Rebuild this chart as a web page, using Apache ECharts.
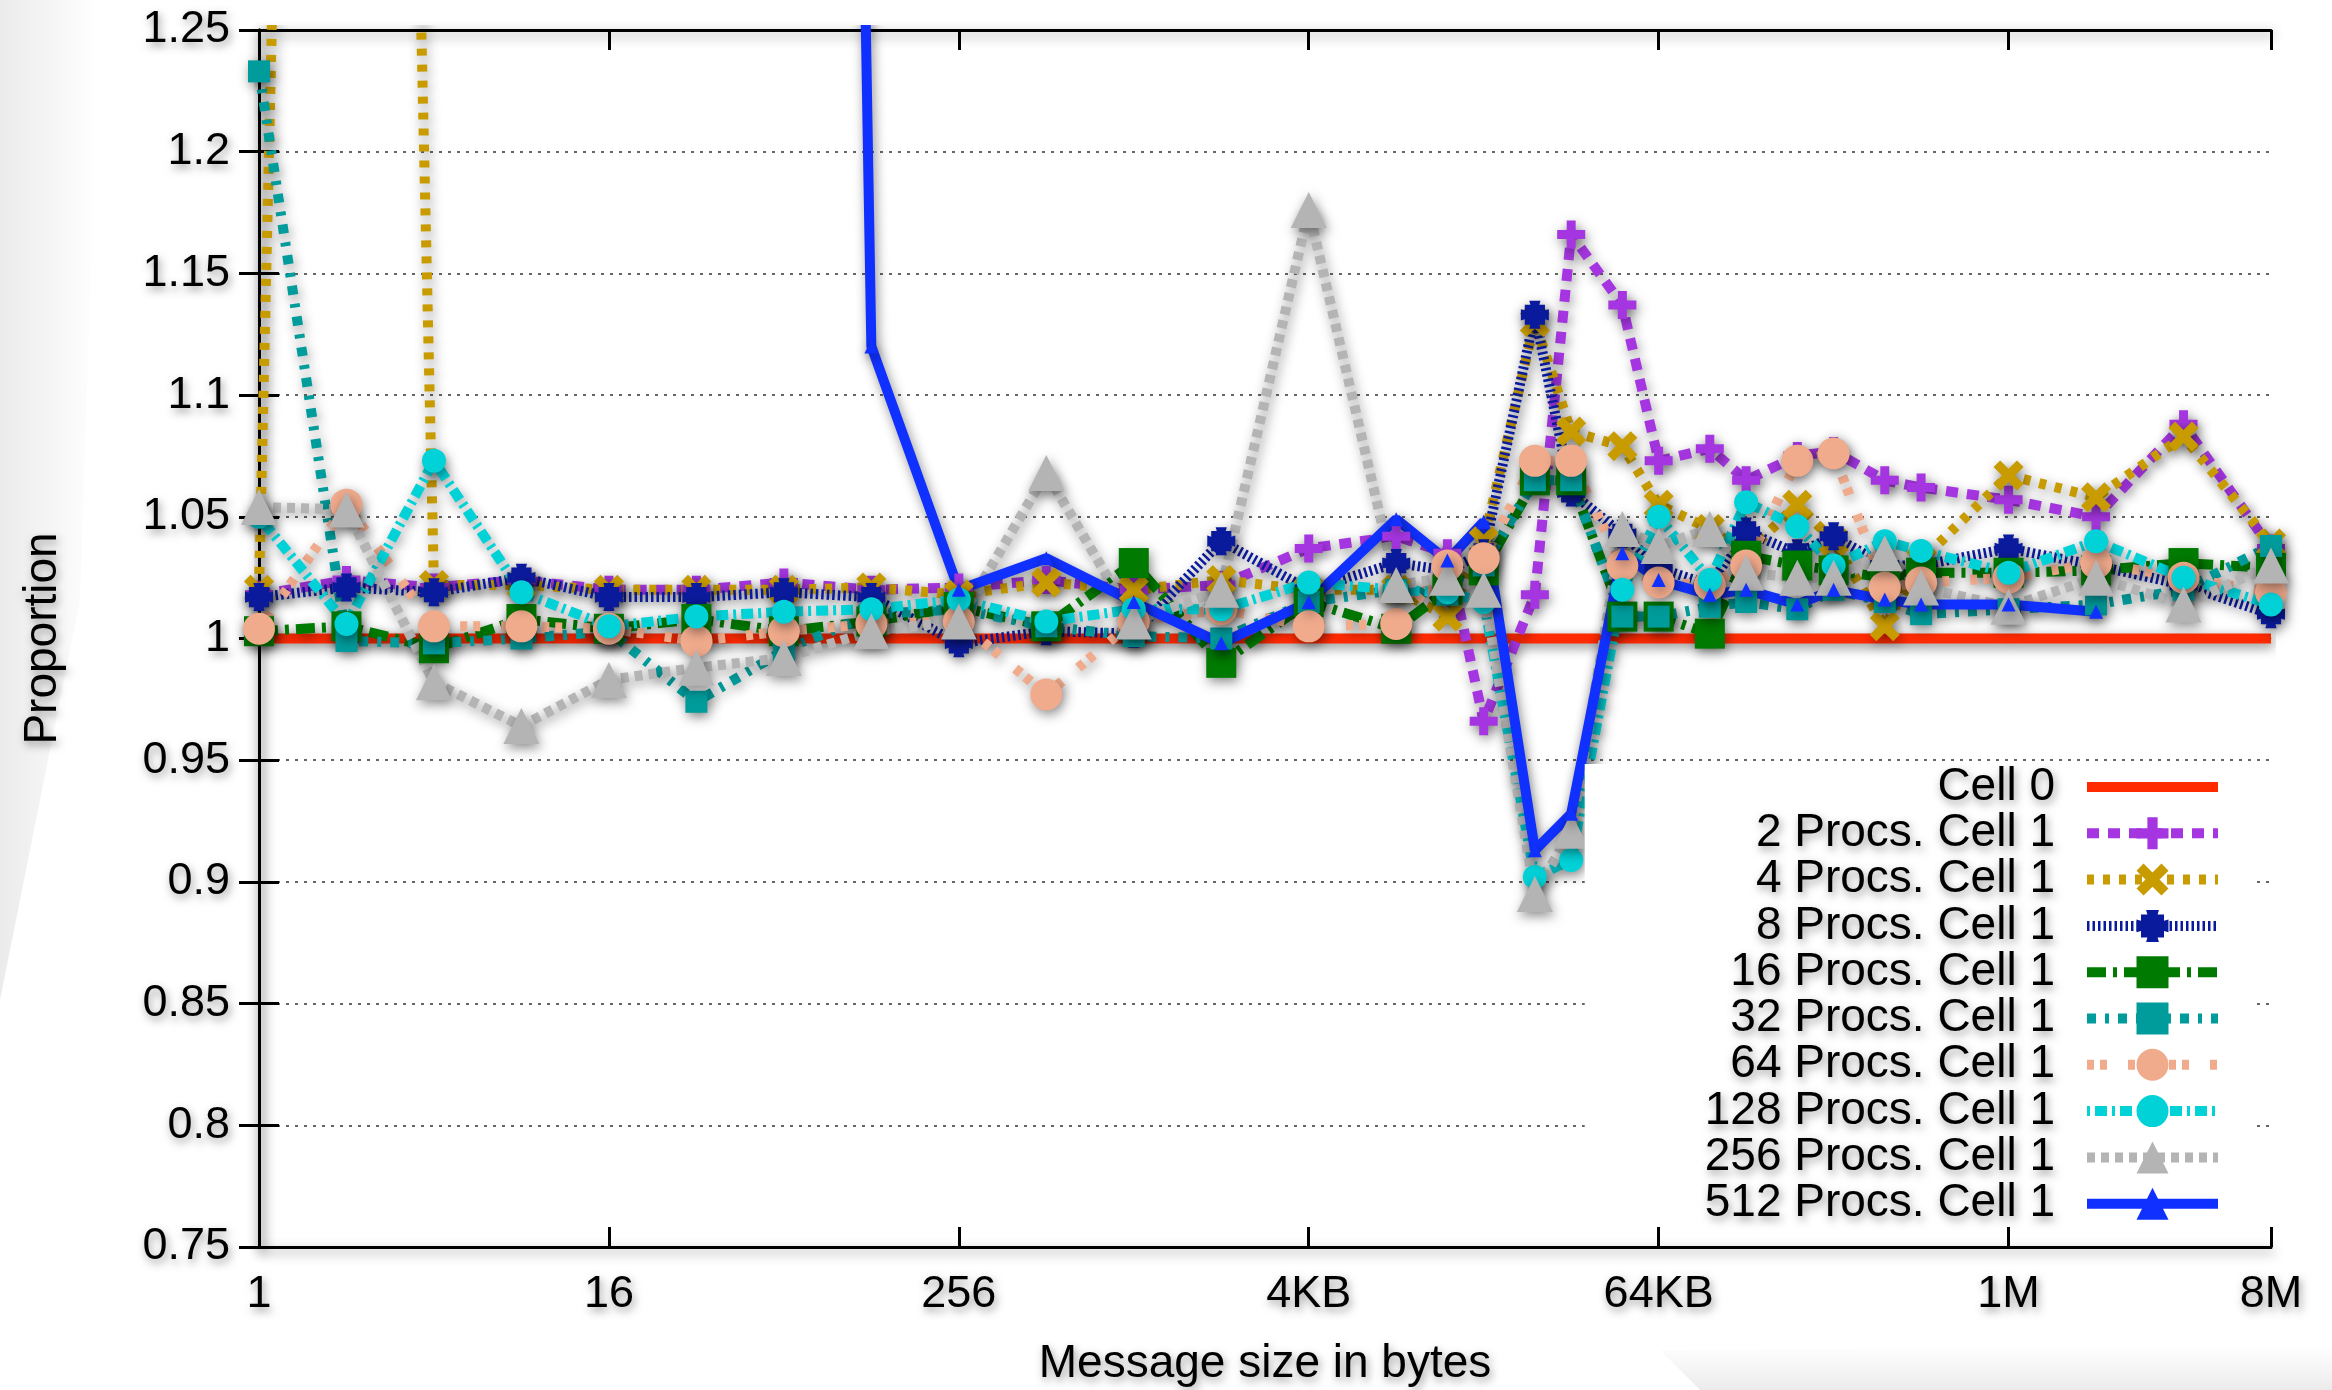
<!DOCTYPE html>
<html>
<head>
<meta charset="utf-8">
<title>Proportion by message size</title>
<script src="https://cdn.jsdelivr.net/npm/echarts@6/dist/echarts.min.js"></script>
<style>
  html, body { margin: 0; padding: 0; background: #fff; }
  #chart { width: 2332px; height: 1390px; }
</style>
</head>
<body>
<div id="chart"></div>
<script>
// message sizes in bytes, x axis is log2 of these
const sizes = [1, 2, 4, 8, 16, 32, 64, 128, 256, 512, 1024, 2048, 4096, 8192, 12288, 16384,
  24576, 32768, 49152, 65536, 98304, 131072, 196608, 262144, 393216, 524288,
  1048576, 2097152, 4194304, 8388608];

const tickExp = [0, 4, 8, 12, 16, 20, 23];
const tickText = ["1", "16", "256", "4KB", "64KB", "1M", "8M"];

const cell0 = [1, 1, 1, 1, 1, 1, 1, 1, 1, 1, 1, 1, 1, 1, 1, 1, 1, 1, 1, 1, 1, 1, 1, 1, 1, 1, 1, 1, 1, 1];
const procs2 = [1.018, 1.024, 1.021, 1.024, 1.020, 1.020, 1.023, 1.020, 1.021, 1.024, 1.020, 1.022, 1.037, 1.042, 1.035,
  0.966, 1.018, 1.166, 1.137, 1.073, 1.078, 1.065, 1.075, 1.077, 1.065, 1.062, 1.057, 1.050, 1.088, 1.037];
const procs4 = [1.020, 2.600, 1.022, 1.022, 1.020, 1.020, 1.020, 1.021, 1.018, 1.023, 1.020, 1.024, 1.020, 1.020, 1.009,
  1.040, 1.130, 1.085, 1.079, 1.055, 1.045, 1.035, 1.055, 1.040, 1.005, 1.032, 1.067, 1.058, 1.083, 1.039];
const procs8 = [1.017, 1.021, 1.019, 1.025, 1.017, 1.017, 1.019, 1.017, 0.998, 1.003, 1.002, 1.040, 1.020, 1.031, 1.028,
  1.035, 1.133, 1.060, 1.043, 1.029, 1.022, 1.044, 1.035, 1.042, 1.030, 1.030, 1.037, 1.030, 1.022, 1.010];
const procs16 = [1.003, 1.005, 0.996, 1.008, 1.004, 1.008, 1.003, 1.007, 1.013, 1.005, 1.031, 0.990, 1.015, 1.004, 1.020,
  1.028, 1.065, 1.065, 1.009, 1.009, 1.002, 1.034, 1.030, 1.028, 1.025, 1.027, 1.027, 1.028, 1.031, 1.029];
const procs32 = [1.233, 0.999, 0.998, 1.000, 1.003, 0.974, 0.995, 1.010, 1.012, 1.005, 1.001, 1.000, 1.015, 1.020, 1.018,
  1.030, 1.065, 1.065, 1.009, 1.009, 1.013, 1.015, 1.012, 1.020, 1.015, 1.010, 1.012, 1.014, 1.020, 1.038];
const procs64 = [1.004, 1.055, 1.005, 1.005, 1.004, 0.999, 1.003, 1.006, 1.007, 0.977, 1.007, 1.012, 1.005, 1.006, 1.030,
  1.033, 1.073, 1.073, 1.030, 1.023, 1.022, 1.030, 1.073, 1.076, 1.021, 1.023, 1.025, 1.031, 1.025, 1.019];
const procs128 = [1.050, 1.006, 1.073, 1.019, 1.005, 1.009, 1.011, 1.012, 1.016, 1.007, 1.012, 1.012, 1.023, 1.020, 1.019,
  1.015, 0.902, 0.909, 1.020, 1.050, 1.024, 1.056, 1.046, 1.030, 1.040, 1.036, 1.027, 1.040, 1.025, 1.014];
const procs256 = [1.054, 1.053, 0.982, 0.964, 0.983, 0.988, 0.992, 1.003, 1.007, 1.068, 1.007, 1.020, 1.176, 1.022, 1.025,
  1.020, 0.895, 0.921, 1.045, 1.038, 1.045, 1.027, 1.025, 1.025, 1.035, 1.021, 1.013, 1.025, 1.014, 1.030];
// 512 procs has no points at 4M and 8M
const procs512 = [3.9, 3.7, 3.6, 3.5, 3.4, 3.3, 3.2, 1.120, 1.020, 1.033, 1.015, 0.998, 1.015, 1.049, 1.032,
  1.048, 0.913, 0.928, 1.035, 1.024, 1.018, 1.020, 1.014, 1.020, 1.016, 1.014, 1.014, 1.011, null, null];

const FONT = "'Liberation Sans', Arial, Helvetica, sans-serif";
const shadow = { shadowColor: "rgba(0,0,0,0.45)", shadowBlur: 12, shadowOffsetX: 2, shadowOffsetY: 4 };
const textShadow = { textShadowColor: "rgba(0,0,0,0.4)", textShadowBlur: 9, textShadowOffsetX: 2, textShadowOffsetY: 4 };

const PLUS = "path://M34,0H66V34H100V66H66V100H34V66H0V34H34Z";
const CROSS = "path://M0,22L22,0L50,28L78,0L100,22L72,50L100,78L78,100L50,72L22,100L0,78L28,50Z";
const BLOB = "path://M30,0L70,0L66,14L86,14L86,34L100,30L100,70L86,66L86,86L66,86L70,100L30,100L34,86L14,86L14,66L0,70L0,30L14,34L14,14L34,14Z";

function makeSeries(name, values, color, dash, symbol, size, width) {
  const points = [];
  values.forEach((v, i) => {
    if (v != null) points.push([Math.log2(sizes[i]), v]);
  });
  return {
    name,
    type: "line",
    data: points,
    symbol,
    symbolSize: size,
    clip: true,
    lineStyle: { color, width, type: dash, cap: "butt", ...shadow },
    itemStyle: { color, ...shadow },
    emphasis: { disabled: true },
  };
}

const series = [
  makeSeries("Cell 0", cell0, "#ff2a00", "solid", "circle", 1, 10),
  makeSeries("2 Procs. Cell 1", procs2, "#a535e0", [12, 9], PLUS, 28, 10),
  makeSeries("4 Procs. Cell 1", procs4, "#c89b00", [7, 9], CROSS, 30, 10),
  makeSeries("8 Procs. Cell 1", procs8, "#0a1a9c", [2.5, 3], BLOB, 28, 10),
  makeSeries("16 Procs. Cell 1", procs16, "#007a00", [19, 7, 4, 7], "rect", 30, 10),
  makeSeries("32 Procs. Cell 1", procs32, "#009b9b", [9, 9, 4, 9], "rect", 22, 10),
  makeSeries("64 Procs. Cell 1", procs64, "#f0aa8c", [7, 6, 7, 21], "circle", 32, 10),
  makeSeries("128 Procs. Cell 1", procs128, "#00d2d8", [3, 5, 12, 5], "circle", 24, 10),
  makeSeries("256 Procs. Cell 1", procs256, "#b4b4b4", [8, 6], "triangle", 36, 10),
  makeSeries("512 Procs. Cell 1", procs512, "#1030ff", "solid", "triangle", 14, 10),
];

const legendData = series.map((s) =>
  s.name === "Cell 0" ? { name: s.name, itemStyle: { opacity: 0 } } : { name: s.name }
);

const axisLine = { lineStyle: { color: "#000", width: 3, ...shadow } };
const axisTick = { inside: true, length: 20, lineStyle: { color: "#000", width: 3 } };

const chart = echarts.init(document.getElementById("chart"));
chart.setOption({
  animation: false,
  backgroundColor: "#fff",
  textStyle: { fontFamily: FONT },
  graphic: [
    {
      type: "polygon", z: -10, silent: true,
      shape: { points: [[0, 0], [100, 0], [80, 600], [0, 1000]] },
      style: {
        fill: new echarts.graphic.LinearGradient(0, 0, 100, 0, [
          { offset: 0, color: "rgba(0,0,0,0.08)" },
          { offset: 1, color: "rgba(0,0,0,0)" },
        ], true),
      },
    },
    {
      type: "polygon", z: -10, silent: true,
      shape: { points: [[1700, 1390], [1660, 1350], [2332, 1345], [2332, 1390]] },
      style: {
        fill: new echarts.graphic.LinearGradient(0, 1345, 0, 1390, [
          { offset: 0, color: "rgba(0,0,0,0)" },
          { offset: 1, color: "rgba(0,0,0,0.08)" },
        ], true),
      },
    },
  ],
  grid: { left: 259, right: 61, top: 30, bottom: 143, containLabel: false, outerBoundsMode: "none" },
  legend: {
    orient: "vertical",
    right: 77,
    top: 764,
    align: "right",
    itemWidth: 131,
    itemHeight: 40,
    itemGap: 0.3,
    padding: [0, 32, 0, 120],
    backgroundColor: "#fff",
    selectedMode: false,
    lineStyle: { width: "inherit" },
    textStyle: { fontSize: 46, lineHeight: 44, color: "#000", fontFamily: FONT, padding: [0, 27, 0, 0], ...textShadow },
    data: legendData,
  },
  xAxis: [
    {
      type: "value",
      min: 0,
      max: 23,
      interval: 4,
      name: "Message size in bytes",
      nameLocation: "middle",
      nameGap: 94,
      nameTextStyle: { fontSize: 46, color: "#000", fontFamily: FONT, ...textShadow },
      axisLine,
      axisTick,
      splitLine: { show: false },
      axisLabel: {
        margin: 25,
        fontSize: 45,
        color: "#000",
        ...textShadow,
        formatter: (v) => {
          const k = tickExp.indexOf(v);
          return k >= 0 ? tickText[k] : "";
        },
      },
    },
    {
      type: "value",
      position: "top",
      min: 0,
      max: 23,
      interval: 4,
      axisLine,
      axisTick,
      axisLabel: { show: false },
      splitLine: { show: false },
    },
  ],
  yAxis: [
    {
      type: "value",
      min: 0.75,
      max: 1.25,
      interval: 0.05,
      name: "Proportion",
      nameLocation: "middle",
      nameGap: 193,
      nameTextStyle: { fontSize: 46, color: "#000", fontFamily: FONT, ...textShadow },
      axisLine: { show: true, ...axisLine },
      axisTick,
      axisLabel: {
        margin: 29,
        fontSize: 45,
        color: "#000",
        ...textShadow,
        formatter: (v) => String(+v.toFixed(2)),
      },
      splitLine: { show: true, lineStyle: { color: "#333", width: 1.5, type: [3, 6] } },
    },
    {
      type: "value",
      position: "right",
      min: 0.75,
      max: 1.25,
      interval: 0.05,
      axisLine: { show: true, ...axisLine },
      axisTick,
      axisLabel: { show: false },
      splitLine: { show: false },
    },
  ],
  series,
});

window.addEventListener("resize", () => chart.resize());
</script>
</body>
</html>
